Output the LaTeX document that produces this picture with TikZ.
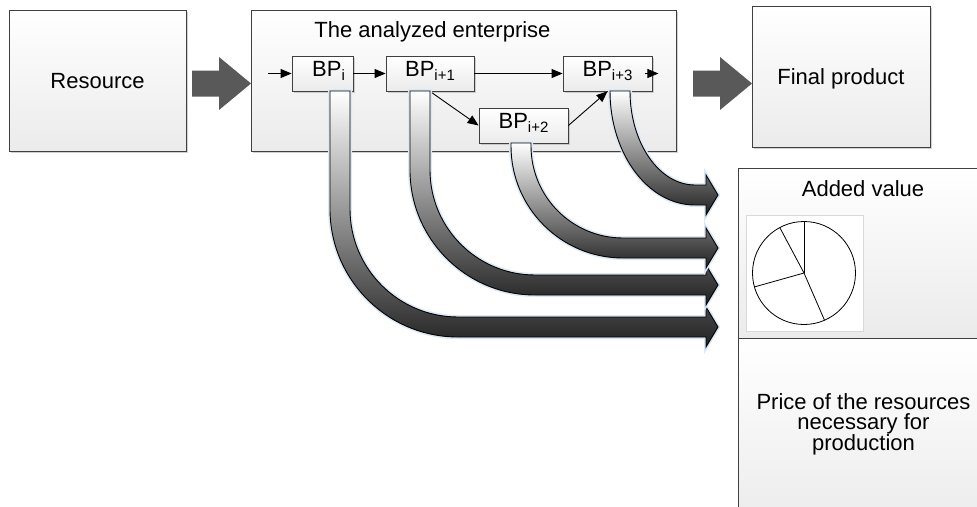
\documentclass[tikz,border=0pt]{standalone}
\usepackage{fontspec}
\setmainfont{Liberation Sans}
\usetikzlibrary{shadows,arrows.meta,calc}
\definecolor{boxline}{HTML}{404040}
\definecolor{boxbot}{HTML}{EBEBEB}
\definecolor{bigarrow}{HTML}{595959}
\definecolor{arrdark}{HTML}{222222}
\definecolor{arrmid}{HTML}{B0B0B0}
\definecolor{glowc}{HTML}{DCE8F5}
\definecolor{pieframec}{HTML}{D9D9D9}
\newcommand{\bpsub}[1]{\raisebox{-4pt}{\fontsize{15}{15}\selectfont #1}}
\begin{document}
\begin{tikzpicture}[x=1pt,y=-1pt,
  every node/.style={font=\fontsize{22}{20}\selectfont, inner sep=0pt},
  box/.style={draw=boxline, line width=0.8pt, top color=white, bottom color=boxbot,
    drop shadow={shadow xshift=2pt, shadow yshift=-2pt, fill=black!30, opacity=0.6}},
  flatbox/.style={draw=boxline, line width=0.8pt, top color=white, bottom color=boxbot},
  bpbox/.style={box, minimum height=35pt, text depth=9pt},
  thin/.style={line width=0.9pt, -{Triangle[length=11pt,width=9pt]}},
  blockarrow/.style={draw=black, line width=0.9pt, top color=white, middle color=arrmid,
    bottom color=arrdark, preaction={draw=glowc, line width=4pt}},
  grayarrow/.style={fill=bigarrow}
]
\useasboundingbox (0,0) rectangle (977,506);
\clip (0,0) rectangle (977,506);

% main boxes
\node[box, minimum width=177pt, minimum height=141pt, text depth=0pt] (res) at (97.5,80.5) {Resource};
\node[box, minimum width=425pt, minimum height=141pt] (ent) at (463.5,80.5) {};
\node[anchor=base] (enttitle) at (432.5,37) {The analyzed enterprise};
\node[box, minimum width=178pt, minimum height=141pt, text depth=0pt] (fin) at (841,76.5) {Final product};

% right box
\node[flatbox, minimum width=250pt, minimum height=170pt] (added) at (863,253) {};
\node[flatbox, minimum width=250pt, minimum height=192pt] (price) at (863,434) {};
\node[anchor=base] (addedtitle) at (863,196) {Added value};
\node[align=center] (pricetext) at (863.5,424.3) {Price of the resources\\necessary for\\production};

% big gray arrows
\fill[grayarrow] (192,70.5) -- (219,70.5) -- (219,57) -- (251,83.5) -- (219,110) -- (219,96.5) -- (192,96.5) -- cycle;
\fill[grayarrow] (693,70.5) -- (720,70.5) -- (720,57) -- (752,83.5) -- (720,110) -- (720,96.5) -- (693,96.5) -- cycle;

% business process boxes
\node[bpbox, minimum width=61pt] (bpi) at (322.5,73.5) {\hspace*{12pt}BP\bpsub{i}};
\node[bpbox, minimum width=88pt] (bpii) at (430,73.5) {BP\bpsub{i+1}};
\node[bpbox, minimum width=89pt] (bpiii) at (523.5,125.5) {BP\bpsub{i+2}};
\node[bpbox, minimum width=89pt] (bpiv) at (607.5,73.5) {BP\bpsub{i+3}};

% thin arrows
\coordinate (entry) at (268,73.5);
\draw[thin] (entry) -- (bpi.west);
\draw[thin] (bpi.east) -- (bpii.west);
\draw[thin] (bpii.east) -- (bpiv.west);
\draw[thin] (bpii.south) -- (bpiii.west);
\draw[thin] (bpiii.east) -- (bpiv.south);
\draw[thin] ([xshift=-7pt]bpiv.east) -- ([xshift=6pt]bpiv.east);

% curved block arrows
\path[blockarrow] (330,91) -- (330,209) .. controls (330,279.7) and (387.3,337) .. (458,337)
  -- (706,337) -- (706,347) -- (718,327) -- (706,307) -- (706,317) -- (458,317)
  .. controls (398.4,317) and (350,268.6) .. (350,209) -- (350,91) -- cycle;
\path[blockarrow] (410,91) -- (410,170) .. controls (410,239) and (466,295) .. (535,295)
  -- (706,295) -- (706,305) -- (718,285) -- (706,265) -- (706,275) -- (535,275)
  .. controls (477,275) and (430,228) .. (430,170) -- (430,91) -- cycle;
\path[blockarrow] (511,143) -- (511,146) .. controls (511,207.9) and (561.1,258) .. (623,258)
  -- (706,258) -- (706,268) -- (718,248) -- (706,228) -- (706,238) -- (623,238)
  .. controls (572.2,238) and (531,196.8) .. (531,146) -- (531,143) -- cycle;
\path[blockarrow] (610,91) .. controls (610,154) and (648,205) .. (695,205)
  -- (706,205) -- (706,215) -- (718,195) -- (706,175) -- (706,185) -- (695,185)
  .. controls (659.1,185) and (630,142.9) .. (630,91) -- cycle;

% pie chart
\node[draw=pieframec, fill=white, line width=0.6pt, minimum width=117pt, minimum height=116pt] (pieframe) at (804.5,273) {};
\coordinate (pc) at (804,273);
\draw[line width=0.8pt, fill=white] (pc) circle[radius=51.5pt];
\draw[line width=0.8pt] (pc) -- (804,221.5);
\draw[line width=0.8pt] (pc) -- (779.8,227.6);
\draw[line width=0.8pt] (pc) -- (754.5,286.9);
\draw[line width=0.8pt] (pc) -- (824.5,320.2);
\end{tikzpicture}
\end{document}
